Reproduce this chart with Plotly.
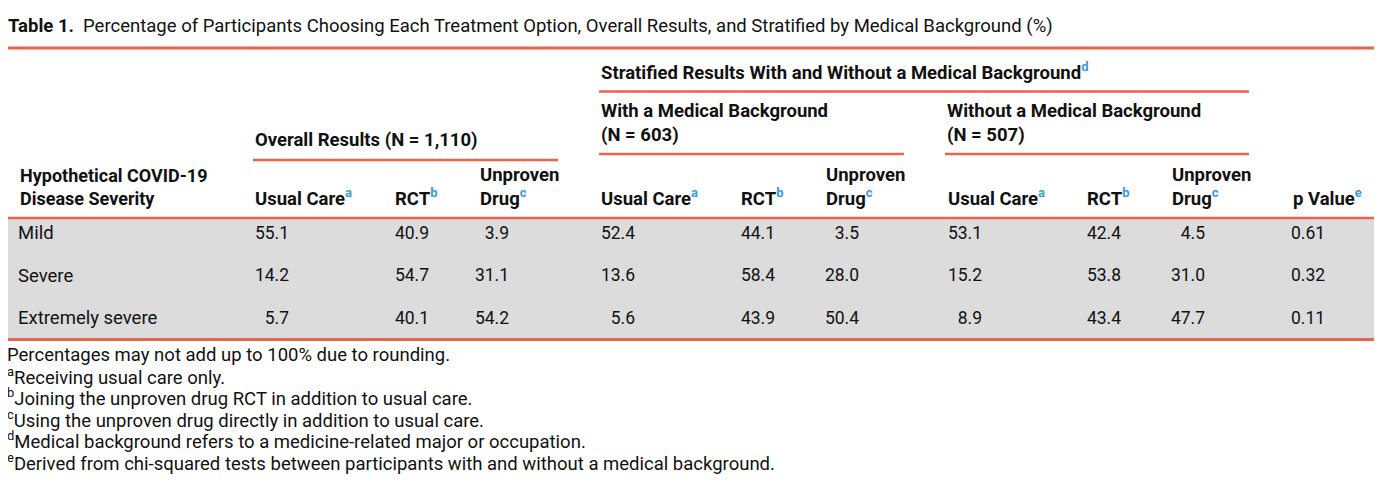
import plotly.graph_objects as go

# Table values
severity = ["Mild", "Severe", "Extremely severe"]
overall_usual = [55.1, 14.2, 5.7]
overall_rct = [40.9, 54.7, 40.1]
overall_drug = [3.9, 31.1, 54.2]
med_usual = [52.4, 13.6, 5.6]
med_rct = [44.1, 58.4, 43.9]
med_drug = [3.5, 28.0, 50.4]
nonmed_usual = [53.1, 15.2, 8.9]
nonmed_rct = [42.4, 53.8, 43.4]
nonmed_drug = [4.5, 31.0, 47.7]
p_values = ["0.61", "0.32", "0.11"]

footnotes = [
    ("", "Percentages may not add up to 100% due to rounding."),
    ("a", "Receiving usual care only."),
    ("b", "Joining the unproven drug RCT in addition to usual care."),
    ("c", "Using the unproven drug directly in addition to usual care."),
    ("d", "Medical background refers to a medicine-related major or occupation."),
    ("e", "Derived from chi-squared tests between participants with and without a medical background."),
]

W, H = 1382, 487
FONT = "Roboto"
TXT = "#111111"
RULE = "#E8644A"
BAND = "#DCDCDC"
SUP = "#3A9AD9"
# page offset (body margin + text padding) so axis units line up with page pixels
OX, OY = 10, 8


def sup(letter):
    return "<sup><span style='color:%s'>%s</span></sup>" % (SUP, letter)


# column layout: (header left x, data right edge x)
cols = [
    (255, 291, overall_usual), (395, 431, overall_rct), (480, 511, overall_drug),
    (601, 637, med_usual), (741, 777, med_rct), (826, 861, med_drug),
    (948, 984, nonmed_usual), (1087, 1123, nonmed_rct), (1172, 1207, nonmed_drug),
]
row_y0, row_step = 234.5, 42.5
row_ys = [row_y0 + i * row_step for i in range(len(severity))]

fig = go.Figure()

# data cells
for left, right, vals in cols:
    fig.add_trace(go.Scatter(
        x=[right] * len(vals), y=row_ys, mode="text",
        text=["%.1f" % v for v in vals], textposition="middle left",
        textfont=dict(family=FONT, size=17.5, color=TXT),
        hoverinfo="skip", showlegend=False))

fig.add_trace(go.Scatter(
    x=[1293] * len(p_values), y=row_ys, mode="text",
    text=p_values, textposition="middle right",
    textfont=dict(family=FONT, size=17.5, color=TXT),
    hoverinfo="skip", showlegend=False))

fig.add_trace(go.Scatter(
    x=[20] * len(severity), y=row_ys, mode="text",
    text=severity, textposition="middle right",
    textfont=dict(family=FONT, size=18.5, color=TXT),
    hoverinfo="skip", showlegend=False))

shapes = [
    dict(type="rect", x0=7, x1=1376, y0=219, y1=338, fillcolor=BAND, line_width=0, layer="below"),
    dict(type="line", x0=7, x1=1376, y0=48, y1=48, line=dict(color=RULE, width=3)),
    dict(type="line", x0=601, x1=1251, y0=91.5, y1=91.5, line=dict(color=RULE, width=2.5)),
    dict(type="line", x0=601, x1=906, y0=154, y1=154, line=dict(color=RULE, width=2.5)),
    dict(type="line", x0=947, x1=1251, y0=154, y1=154, line=dict(color=RULE, width=2.5)),
    dict(type="line", x0=255, x1=560, y0=160, y1=160, line=dict(color=RULE, width=2.5)),
    dict(type="line", x0=7, x1=1376, y0=218, y1=218, line=dict(color=RULE, width=2.5)),
    dict(type="line", x0=7, x1=1376, y0=339.5, y1=339.5, line=dict(color=RULE, width=3)),
]

annotations = []


def note(x, y, text, size=18.5):
    # annotations anchored left of the visible range get hidden, so anchor
    # them at the range edge and shift them back in pixels
    anchor = max(x, OX + 10)
    annotations.append(dict(
        x=anchor, y=y, xref="x", yref="y", text=text, showarrow=False,
        xanchor="left", yanchor="middle", align="left", xshift=x - anchor,
        font=dict(family=FONT, size=size, color=TXT)))


note(8, 26, "<b>Table 1.</b>  Percentage of Participants Choosing Each Treatment Option, "
            "Overall Results, and Stratified by Medical Background (%)", 18.5)

note(601, 71, "<b>Stratified Results With and Without a Medical Background" + sup("d") + "</b>")
note(601, 123, "<b>With a Medical Background<br>(N = 603)</b>")
note(947, 123, "<b>Without a Medical Background<br>(N = 507)</b>")
note(255, 140, "<b>Overall Results (N = 1,110)</b>")
note(20, 186.5, "<b>Hypothetical COVID-19<br>Disease Severity</b>", 18)

for base in (255, 601, 948):
    note(base, 197, "<b>Usual Care" + sup("a") + "</b>")
for base in (395, 741, 1087):
    note(base, 197, "<b>RCT" + sup("b") + "</b>")
for base in (480, 826, 1172):
    note(base, 186.5, "<b>Unproven<br>Drug" + sup("c") + "</b>")
note(1293, 197, "<b>p Value" + sup("e") + "</b>")

for i, (letter, text) in enumerate(footnotes):
    prefix = "<sup>%s</sup>" % letter if letter else ""
    note(7, 355 + i * 21.4, prefix + text, 18.5)

fig.update_layout(
    width=W, height=H, autosize=False,
    margin=dict(l=0, r=0, t=0, b=0),
    paper_bgcolor="white", plot_bgcolor="white",
    xaxis=dict(range=[OX, W + OX], visible=False, fixedrange=True),
    yaxis=dict(range=[H + OY, OY], visible=False, fixedrange=True),
    shapes=shapes, annotations=annotations,
)

fig.write_html("out.html")
